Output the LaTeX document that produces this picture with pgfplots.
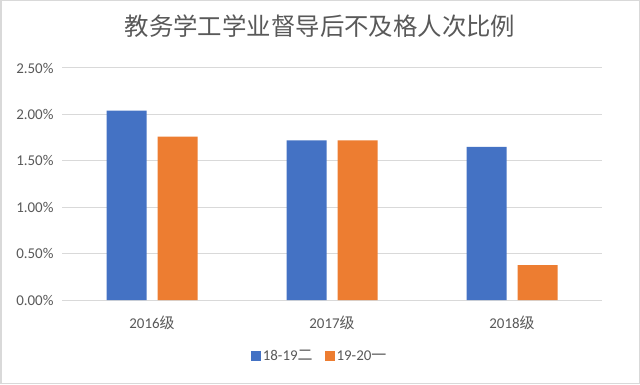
\documentclass[border=0pt]{standalone}
\usepackage{pgfplots}
\pgfplotsset{compat=1.18}
\usepackage{fontspec}
\setmainfont{Carlito}
\newfontfamily\cjk{Noto Sans CJK SC}
\definecolor{cblue}{HTML}{4472C4}
\definecolor{corange}{HTML}{ED7D31}
\definecolor{tgray}{HTML}{595959}
\definecolor{ggray}{HTML}{D9D9D9}
\begin{document}
\begin{tikzpicture}[x=1bp,y=1bp]
\path[use as bounding box] (0,0) rectangle (640,384);
\fill[white] (0,0) rectangle (640,384);
\draw[ggray,line width=1.5bp] (0.75,0.75) rectangle (639.25,383.25);
\node[text=tgray,font=\cjk\fontsize{24.5}{27}\selectfont] at (320,358) {教务学工学业督导后不及格人次比例};
\begin{axis}[
  at={(62bp,84bp)}, anchor=south west,
  scale only axis, width=540bp, height=232bp,
  xmin=-0.5, xmax=2.5, ymin=0, ymax=2.5,
  xtick={0,1,2},
  xticklabels={2016{\cjk 级},2017{\cjk 级},2018{\cjk 级}},
  ytick={0,0.5,1,1.5,2,2.5},
  yticklabel={\pgfmathprintnumber[fixed,fixed zerofill,precision=2]{\tick}\%},
  /pgf/number format/assume math mode=true,
  ymajorgrids, grid style={ggray,line width=1bp},
  axis line style={draw=none},
  major tick style={draw=none},
  tick label style={text=tgray,font=\fontsize{15}{17}\selectfont},
  xticklabel style={yshift=-8bp},
  yticklabel style={xshift=-5bp},
  ybar, bar width=40bp,
  legend columns=2,
  legend style={at={(0.477,-0.241)},anchor=center,draw=none,fill=none,
    font=\fontsize{15}{17}\selectfont,text=tgray,
    /tikz/every even column/.append style={column sep=10bp}},
  legend image code/.code={\fill[#1] (0bp,-5bp) rectangle (10bp,5bp);},
]
\addplot[fill=cblue,draw=none,bar shift=-25.5bp] coordinates {(0,2.04) (1,1.72) (2,1.65)};
\addplot[fill=corange,draw=none,bar shift=25.5bp] coordinates {(0,1.76) (1,1.72) (2,0.375)};
\legend{18-19{\cjk 二},19-20{\cjk 一}}
\end{axis}
\end{tikzpicture}
\end{document}
